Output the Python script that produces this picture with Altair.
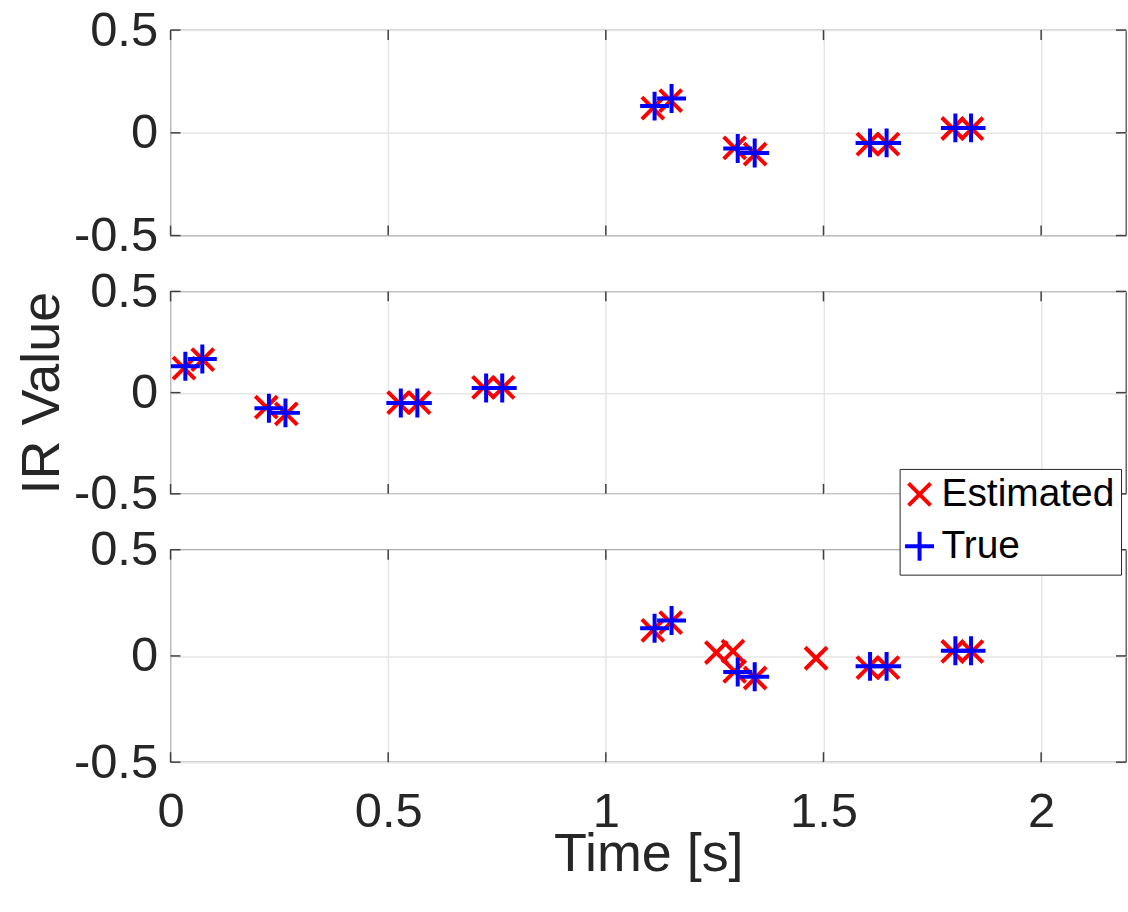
import altair as alt
import pandas as pd

# Impulse-response taps: time [s] and IR value, true vs. estimated
true_t_a = [1.112, 1.151, 1.303, 1.342, 1.607, 1.645, 1.803, 1.839]
true_v_a = [0.130, 0.167, -0.076, -0.098, -0.049, -0.049, 0.024, 0.024]
est_t_a = [1.108, 1.149, 1.296, 1.343, 1.602, 1.648, 1.797, 1.841]
est_v_a = [0.120, 0.157, -0.073, -0.104, -0.055, -0.055, 0.021, 0.020]

true_t_b = [0.034, 0.073, 0.226, 0.264, 0.529, 0.567, 0.725, 0.762]
true_v_b = [0.130, 0.166, -0.077, -0.100, -0.051, -0.051, 0.023, 0.023]
est_t_b = [0.031, 0.074, 0.220, 0.266, 0.524, 0.571, 0.719, 0.764]
est_v_b = [0.121, 0.163, -0.072, -0.105, -0.049, -0.049, 0.026, 0.026]

# spurious taps picked up by the estimator in the last case
extra_t_c = [1.254, 1.292, 1.483]
extra_v_c = [0.016, 0.023, -0.011]

x_ticks = [0, 0.5, 1, 1.5, 2]
y_ticks = [-0.5, 0, 0.5]
series = ["Estimated", "True"]

FONT = "Liberation Sans"
TXT = "#262626"
GRID = "#e6e6e6"
TICK = "#404040"
W = 958
X_DOMAIN = [0, 2.195]

X_PATH = "M-0.76,-0.76L0.76,0.76M-0.76,0.76L0.76,-0.76"
PLUS_PATH = "M-1,0L1,0M0,-1L0,1"


def panel(true_t, true_v, est_t, est_v, height, bottom=False, ytitle=False, legend=False):
    df = pd.DataFrame({
        "time": list(est_t) + list(true_t),
        "value": list(est_v) + list(true_v),
        "series": ["Estimated"] * len(est_t) + ["True"] * len(true_t),
    })
    if bottom:
        xaxis = alt.Axis(values=x_ticks, format="~g", labelFontSize=49, labelPadding=26,
                         labelColor=TXT, labelFont=FONT, labelFlush=False, labelOverlap=False,
                         ticks=False, domain=False, grid=True, gridColor=GRID, gridWidth=1.5,
                         title="Time [s]", titleFontSize=54, titleFont=FONT,
                         titleFontWeight="normal", titleColor=TXT, titleY=66)
    else:
        xaxis = alt.Axis(values=x_ticks, labels=False, ticks=False, domain=False,
                         grid=True, gridColor=GRID, gridWidth=1.5, title=None)
    yaxis_kw = dict(values=y_ticks, format="~g",
                    labelExpr="replace(datum.label, '\u2212', '-')",
                    labelFontSize=49, labelPadding=13, labelColor=TXT, labelFont=FONT,
                    labelFlush=False, labelOverlap=False, ticks=False, domain=False,
                    grid=True, gridColor=GRID, gridWidth=1.5)
    if ytitle:
        yaxis = alt.Axis(title="IR Value", titleFontSize=54, titleFont=FONT,
                         titleFontWeight="normal", titleColor=TXT, titleX=-112,
                         titleY=height / 2, titleBaseline="alphabetic", **yaxis_kw)
    else:
        yaxis = alt.Axis(title=None, **yaxis_kw)

    xs = alt.Scale(domain=X_DOMAIN, nice=False, zero=False)
    ys = alt.Scale(domain=[-0.5, 0.5], nice=False)

    if legend:
        leg = alt.Legend(orient="none", legendX=731, legendY=-81, title=None,
                         fillColor="white", strokeColor=TXT, padding=6,
                         labelFontSize=39, labelColor="black", labelFont=FONT,
                         labelLimit=0, symbolSize=841, symbolStrokeWidth=4,
                         symbolOffset=-5.5, rowPadding=9, labelOffset=2.5)
    else:
        leg = None

    points = alt.Chart(df).mark_point(filled=False, strokeWidth=4, size=841, opacity=1).encode(
        x=alt.X("time:Q", scale=xs, axis=xaxis),
        y=alt.Y("value:Q", scale=ys, axis=yaxis),
        color=alt.Color("series:N", scale=alt.Scale(domain=series, range=["#ff0000", "#0000ff"]),
                        legend=leg),
        shape=alt.Shape("series:N", scale=alt.Scale(domain=series, range=[X_PATH, PLUS_PATH]),
                        legend=leg),
        order=alt.Order("series:N"),
    )

    # inward tick marks on all four sides of the box
    xt = pd.DataFrame({"time": x_ticks})
    yt = pd.DataFrame({"value": y_ticks})
    tick_bot = alt.Chart(xt).mark_rule(color=TICK, strokeWidth=1.5).encode(
        x=alt.X("time:Q", scale=xs), y=alt.value(height), y2=alt.value(height - 10))
    tick_top = alt.Chart(xt).mark_rule(color=TICK, strokeWidth=1.5).encode(
        x=alt.X("time:Q", scale=xs), y=alt.value(0), y2=alt.value(10))
    tick_left = alt.Chart(yt).mark_rule(color=TICK, strokeWidth=1.5).encode(
        y=alt.Y("value:Q", scale=ys), x=alt.value(0), x2=alt.value(10))
    tick_right = alt.Chart(yt).mark_rule(color=TICK, strokeWidth=1.5).encode(
        y=alt.Y("value:Q", scale=ys), x=alt.value(W - 10), x2=alt.value(W))

    return alt.layer(points, tick_bot, tick_top, tick_left, tick_right).properties(
        width=W, height=height)


top = panel(true_t_a, true_v_a, est_t_a, est_v_a, 206)
mid = panel(true_t_b, true_v_b, est_t_b, est_v_b, 203, ytitle=True)
bot = panel(true_t_a, true_v_a, est_t_a + extra_t_c, est_v_a + extra_v_c, 213,
            bottom=True, legend=True)

chart = alt.vconcat(top, mid, bot, spacing=56, bounds="flush").resolve_scale(
    color="independent", shape="independent"
).properties(
    padding={"left": 15, "top": 4, "right": 0, "bottom": 0},
    background="white",
).configure_view(stroke="#4d4d4d", strokeWidth=1.3)

chart.save("out.html", embed_options={"renderer": "svg", "actions": False})
